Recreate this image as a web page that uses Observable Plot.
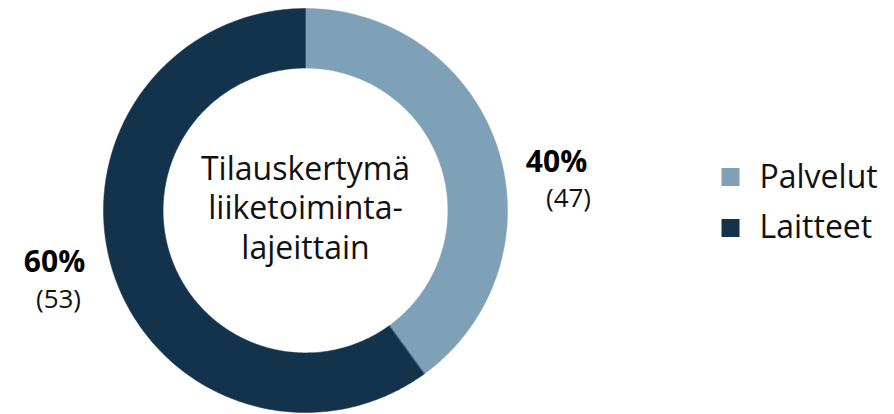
<!DOCTYPE html>
<html>
<head>
<meta charset="utf-8">
<script src="https://cdn.jsdelivr.net/npm/d3@7"></script>
<script src="https://cdn.jsdelivr.net/npm/@observablehq/plot@0.6"></script>
<style>
  html, body { margin: 0; padding: 0; background: #fff; }
  #chart svg { display: block; font-family: "Open Sans", sans-serif; }
</style>
</head>
<body>
<div id="chart"></div>
<script>
// ---- data ----
const categories = ["Palvelut", "Laitteet"];
const shares = [40, 60];          // percent
const amounts = [47, 53];         // values in parentheses
const colors = ["#7ea1b7", "#13334c"];
const centerTitle = "Tilauskertymä\nliiketoiminta-\nlajeittain";

// ---- layout (pixels) ----
const W = 894, H = 414;
const cx = 305, cy = 210, R = 202, innerRatio = 0.705;
// label anchors (pixel, baseline)
const labelLayout = {
  Palvelut: {pct: [556, 171], amt: [568, 206]},
  Laitteet: {pct: [54, 271], amt: [58, 307]}
};
const legendLayout = {x: 730, textX: 759, y: [176.5, 227.5], base: [187, 237]};
const ux = px => (px - cx) / R;
const uy = py => (cy - py) / R;

const rows = categories.map((c, i) => ({category: c, share: shares[i], amount: amounts[i]}));
const arcs = d3.pie().sort(null).value(d => d.share)(rows);

// polygon points for each slice in unit coords
const pts = [];
for (const a of arcs) {
  const n = 200;
  const ring = [];
  for (let k = 0; k <= n; k++) {
    const t = a.startAngle + (a.endAngle - a.startAngle) * k / n;
    ring.push({category: a.data.category, x: Math.sin(t), y: Math.cos(t)});
  }
  for (let k = n; k >= 0; k--) {
    const t = a.startAngle + (a.endAngle - a.startAngle) * k / n;
    ring.push({category: a.data.category, x: innerRatio * Math.sin(t), y: innerRatio * Math.cos(t)});
  }
  pts.push(...ring);
}

const pctLabels = rows.map(r => ({text: r.share + "%", x: ux(labelLayout[r.category].pct[0]), y: uy(labelLayout[r.category].pct[1])}));
const amtLabels = rows.map(r => ({text: "(" + r.amount + ")", x: ux(labelLayout[r.category].amt[0]), y: uy(labelLayout[r.category].amt[1])}));
const legendRows = rows.map((r, i) => ({category: r.category, x: ux(legendLayout.x), y: uy(legendLayout.y[i]), tx: ux(legendLayout.textX), ty: uy(legendLayout.base[i])}));

const chart = Plot.plot({
  width: W,
  height: H,
  marginLeft: cx - R,
  marginRight: W - (cx + R),
  marginTop: cy - R,
  marginBottom: H - (cy + R),
  x: {domain: [-1, 1], axis: null},
  y: {domain: [-1, 1], axis: null},
  color: {domain: categories, range: colors},
  style: {fontFamily: "Open Sans, sans-serif", background: "#fff"},
  marks: [
    Plot.line(pts, {x: "x", y: "y", z: "category", fill: "category", stroke: "category", strokeWidth: 0.5, curve: "linear-closed"}),
    Plot.text([centerTitle], {x: [0], y: [uy(219)], text: d => d, fontSize: 32, lineHeight: 1.23, textAnchor: "middle", lineAnchor: "bottom", fill: "#111", dy: 39}),
    Plot.text(pctLabels, {x: "x", y: "y", text: "text", fontSize: 30, fontWeight: "bold", textAnchor: "middle", lineAnchor: "bottom", fill: "#000"}),
    Plot.text(amtLabels, {x: "x", y: "y", text: "text", fontSize: 26, textAnchor: "middle", lineAnchor: "bottom", fill: "#111"}),
    Plot.dot(legendRows, {x: "x", y: "y", symbol: "square", r: 18 / Math.sqrt(Math.PI), fill: "category", stroke: null}),
    Plot.text(legendRows, {x: "tx", y: "ty", text: "category", fontSize: 32, textAnchor: "start", lineAnchor: "bottom", fill: "#111"})
  ]
});
document.getElementById("chart").appendChild(chart);
</script>
</body>
</html>
